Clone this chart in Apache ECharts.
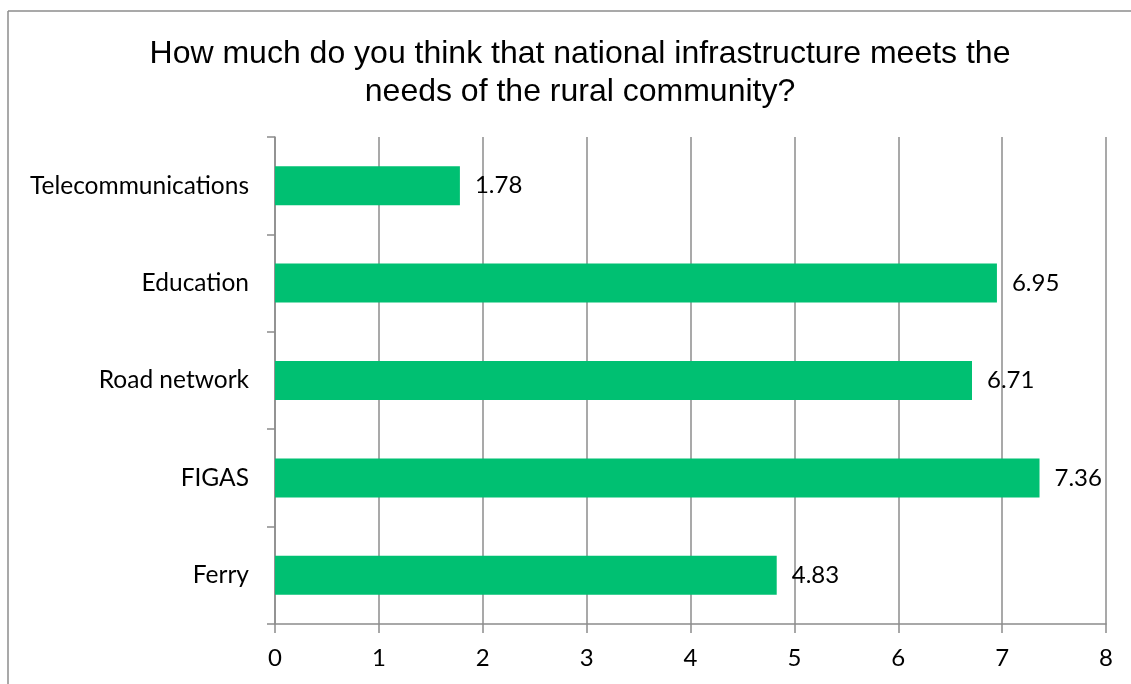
<!DOCTYPE html>
<html>
<head>
<meta charset="utf-8">
<script src="https://cdn.jsdelivr.net/npm/echarts@6/dist/echarts.min.js"></script>
<style>
  html, body { margin: 0; padding: 0; background: #fff; }
  #chart { width: 1131px; height: 684px; }
</style>
</head>
<body>
<div id="chart"></div>
<script>
// Survey categories (bottom to top) and mean scores
const categories = ['Ferry', 'FIGAS', 'Road network', 'Education', 'Telecommunications'];
const scores = [4.83, 7.36, 6.71, 6.95, 1.78];
const xTicks = [0, 1, 2, 3, 4, 5, 6, 7, 8];

const chart = echarts.init(document.getElementById('chart'));
const labelFont = 'Lato, "Open Sans", sans-serif';

chart.setOption({
  animation: false,
  backgroundColor: '#fff',
  graphic: [
    // outer frame (top and left edges)
    { type: 'line', shape: { x1: 8, y1: 11, x2: 1131, y2: 11 }, style: { stroke: '#8c8c8c', lineWidth: 1.5 } },
    { type: 'line', shape: { x1: 8, y1: 11, x2: 8, y2: 684 }, style: { stroke: '#8c8c8c', lineWidth: 1.5 } }
  ],
  title: {
    text: 'How much do you think that national infrastructure meets the\nneeds of the rural community?',
    left: 575,
    top: 30,
    textAlign: 'center',
    textStyle: {
      fontFamily: '"Liberation Sans", Arial, sans-serif',
      fontSize: 32,
      fontWeight: 'normal',
      color: '#000',
      lineHeight: 38
    }
  },
  grid: { left: 275, right: 25, top: 137, bottom: 60, containLabel: false },
  xAxis: {
    type: 'value',
    min: xTicks[0],
    max: xTicks[xTicks.length - 1],
    interval: 1,
    axisLine: { show: true, lineStyle: { color: '#8c8c8c', width: 1.5 } },
    axisTick: { show: true, length: 9, lineStyle: { color: '#8c8c8c', width: 1.5 } },
    splitLine: { show: true, lineStyle: { color: '#8c8c8c', width: 1.5 } },
    axisLabel: { color: '#000', fontSize: 24, fontFamily: labelFont, margin: 22 }
  },
  yAxis: {
    type: 'category',
    data: categories,
    axisLine: { show: true, lineStyle: { color: '#8c8c8c', width: 1.5 } },
    axisTick: { show: true, length: 8, lineStyle: { color: '#8c8c8c', width: 1.5 } },
    axisLabel: { color: '#000', fontSize: 24.5, fontFamily: labelFont, margin: 26 }
  },
  series: [{
    type: 'bar',
    data: scores,
    barWidth: '40%',
    itemStyle: { color: '#00c072' },
    label: {
      show: true,
      position: 'right',
      distance: 15,
      color: '#000',
      fontSize: 24,
      fontFamily: labelFont
    }
  }]
});
</script>
</body>
</html>
